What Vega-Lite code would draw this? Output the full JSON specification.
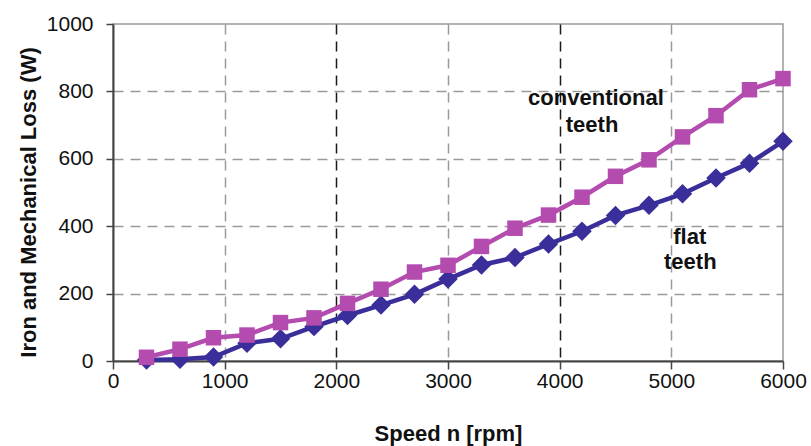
{
  "$schema": "https://vega.github.io/schema/vega-lite/v6.json",
  "autosize": {"type": "none"},
  "width": 670,
  "height": 337,
  "padding": {"left": 113, "top": 24, "right": 28, "bottom": 85},
  "background": "white",
  "config": {
    "font": "Liberation Sans",
    "view": {"stroke": "#9a9a9a", "strokeWidth": 1.5}
  },
  "datasets": {
    "loss": [
      {"speed": 300, "loss": 3, "teeth": "flat teeth"},
      {"speed": 600, "loss": 5, "teeth": "flat teeth"},
      {"speed": 900, "loss": 12, "teeth": "flat teeth"},
      {"speed": 1200, "loss": 53, "teeth": "flat teeth"},
      {"speed": 1500, "loss": 66, "teeth": "flat teeth"},
      {"speed": 1800, "loss": 102, "teeth": "flat teeth"},
      {"speed": 2100, "loss": 135, "teeth": "flat teeth"},
      {"speed": 2400, "loss": 166, "teeth": "flat teeth"},
      {"speed": 2700, "loss": 198, "teeth": "flat teeth"},
      {"speed": 3000, "loss": 243, "teeth": "flat teeth"},
      {"speed": 3300, "loss": 285, "teeth": "flat teeth"},
      {"speed": 3600, "loss": 307, "teeth": "flat teeth"},
      {"speed": 3900, "loss": 347, "teeth": "flat teeth"},
      {"speed": 4200, "loss": 385, "teeth": "flat teeth"},
      {"speed": 4500, "loss": 432, "teeth": "flat teeth"},
      {"speed": 4800, "loss": 462, "teeth": "flat teeth"},
      {"speed": 5100, "loss": 496, "teeth": "flat teeth"},
      {"speed": 5400, "loss": 543, "teeth": "flat teeth"},
      {"speed": 5700, "loss": 587, "teeth": "flat teeth"},
      {"speed": 6000, "loss": 652, "teeth": "flat teeth"},
      {"speed": 300, "loss": 11, "teeth": "conventional teeth"},
      {"speed": 600, "loss": 35, "teeth": "conventional teeth"},
      {"speed": 900, "loss": 69, "teeth": "conventional teeth"},
      {"speed": 1200, "loss": 77, "teeth": "conventional teeth"},
      {"speed": 1500, "loss": 114, "teeth": "conventional teeth"},
      {"speed": 1800, "loss": 128, "teeth": "conventional teeth"},
      {"speed": 2100, "loss": 171, "teeth": "conventional teeth"},
      {"speed": 2400, "loss": 213, "teeth": "conventional teeth"},
      {"speed": 2700, "loss": 264, "teeth": "conventional teeth"},
      {"speed": 3000, "loss": 284, "teeth": "conventional teeth"},
      {"speed": 3300, "loss": 340, "teeth": "conventional teeth"},
      {"speed": 3600, "loss": 394, "teeth": "conventional teeth"},
      {"speed": 3900, "loss": 433, "teeth": "conventional teeth"},
      {"speed": 4200, "loss": 486, "teeth": "conventional teeth"},
      {"speed": 4500, "loss": 548, "teeth": "conventional teeth"},
      {"speed": 4800, "loss": 597, "teeth": "conventional teeth"},
      {"speed": 5100, "loss": 665, "teeth": "conventional teeth"},
      {"speed": 5400, "loss": 728, "teeth": "conventional teeth"},
      {"speed": 5700, "loss": 805, "teeth": "conventional teeth"},
      {"speed": 6000, "loss": 838, "teeth": "conventional teeth"}
    ],
    "notes": [
      {"speed": 4325, "loss": 779, "text": "conventional"},
      {"speed": 4290, "loss": 700, "text": "teeth"},
      {"speed": 5165, "loss": 367, "text": "flat"},
      {"speed": 5170, "loss": 294, "text": "teeth"}
    ]
  },
  "encoding": {
    "x": {
      "field": "speed",
      "type": "quantitative",
      "scale": {"domain": [0, 6000], "nice": false, "zero": false},
      "axis": {
        "title": "Speed n [rpm]",
        "values": [0, 1000, 2000, 3000, 4000, 5000, 6000],
        "format": "d",
        "labelFontSize": 21,
        "labelColor": "#111",
        "labelBaseline": "middle",
        "labelPadding": 12,
        "labelFlush": false,
        "tickSize": 8,
        "tickColor": "#444",
        "tickWidth": 1.5,
        "domainColor": "#444",
        "domainWidth": 2,
        "grid": true,
        "gridDash": [10, 7],
        "gridWidth": 1.5,
        "gridColor": {
          "condition": {"test": "datum.value == 2000 || datum.value == 4000", "value": "#1a1a1a"},
          "value": "#9a9a9a"
        },
        "gridOpacity": {
          "condition": {"test": "datum.value == 0 || datum.value == 6000", "value": 0},
          "value": 1
        },
        "titleFontSize": 22,
        "titleFontWeight": "bold",
        "titleColor": "#111",
        "titleBaseline": "middle",
        "titleY": 72
      }
    },
    "y": {
      "field": "loss",
      "type": "quantitative",
      "scale": {"domain": [0, 1000], "nice": false},
      "axis": {
        "title": "Iron and Mechanical Loss (W)",
        "values": [0, 200, 400, 600, 800, 1000],
        "format": "d",
        "labelFontSize": 21,
        "labelColor": "#111",
        "labelPadding": 13,
        "labelFlush": false,
        "tickSize": 7,
        "tickColor": "#444",
        "tickWidth": 1.5,
        "domainColor": "#444",
        "domainWidth": 2,
        "grid": true,
        "gridDash": [10, 7],
        "gridWidth": 1.5,
        "gridColor": "#9a9a9a",
        "gridOpacity": {
          "condition": {"test": "datum.value == 0 || datum.value == 1000", "value": 0},
          "value": 1
        },
        "titleFontSize": 22,
        "titleFontWeight": "bold",
        "titleColor": "#111",
        "titleAngle": -90,
        "titleBaseline": "middle",
        "titleAlign": "center",
        "titleX": -85,
        "titleY": 178
      }
    }
  },
  "layer": [
    {
      "data": {"name": "loss"},
      "mark": {"type": "line", "strokeWidth": 4.5},
      "encoding": {
        "color": {
          "field": "teeth",
          "type": "nominal",
          "scale": {"domain": ["flat teeth", "conventional teeth"], "range": ["#3a2e9a", "#b44bae"]},
          "legend": null
        },
        "order": {"field": "speed", "type": "quantitative"}
      }
    },
    {
      "data": {"name": "loss"},
      "mark": {"type": "point", "filled": true, "opacity": 1},
      "encoding": {
        "color": {"field": "teeth", "type": "nominal", "legend": null},
        "shape": {
          "field": "teeth",
          "type": "nominal",
          "scale": {"domain": ["flat teeth", "conventional teeth"], "range": ["diamond", "square"]},
          "legend": null
        },
        "size": {
          "field": "teeth",
          "type": "nominal",
          "scale": {"domain": ["flat teeth", "conventional teeth"], "range": [380, 240]},
          "legend": null
        }
      }
    },
    {
      "data": {"name": "notes"},
      "mark": {"type": "text", "fontSize": 22, "fontWeight": "bold", "color": "#111", "align": "center", "baseline": "middle"},
      "encoding": {"text": {"field": "text"}}
    }
  ]
}
